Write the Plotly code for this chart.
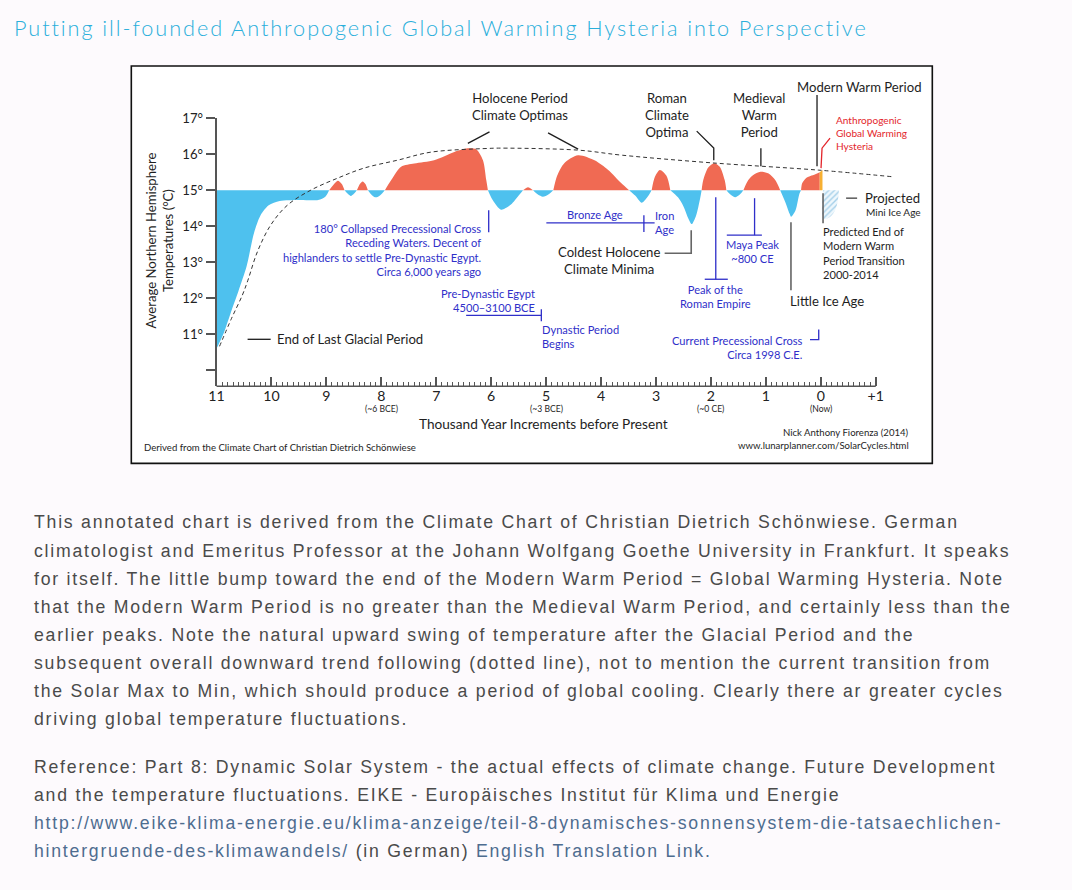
import plotly.graph_objects as go

# The page is photographed with an 8 px offset and a ~0.99 scale; compensate.
OFF = 8
S = 0.99
W, H = 1072 - OFF, 890 - OFF

# ---------------- data ----------------
# thousand years before present, temperature (deg C) of the smoothed Holocene curve
years_bp = [
    11.0, 10.87, 10.745, 10.6, 10.45, 10.32, 10.2, 10.05, 9.85, 9.5, 9.15, 9.02, 8.95,
    8.86, 8.79, 8.72, 8.67,
    8.61, 8.555, 8.50, 8.445,
    8.39, 8.34, 8.29, 8.245,
    8.17, 8.10, 8.02, 7.935,
    7.82, 7.64, 7.40, 7.04, 6.67, 6.43, 6.27, 6.15, 6.09, 6.06,
    5.97, 5.82, 5.64, 5.50, 5.42,
    5.33, 5.24,
    5.15, 5.06, 4.96, 4.87,
    4.80, 4.67, 4.42, 4.12, 3.87, 3.63, 3.49,
    3.38, 3.26, 3.16, 3.08,
    3.02, 2.93, 2.81, 2.74,
    2.60, 2.50, 2.41, 2.35, 2.27, 2.20, 2.17,
    2.14, 2.05, 1.94, 1.84, 1.75, 1.72,
    1.64, 1.56, 1.48, 1.41,
    1.32, 1.23, 1.10, 0.95, 0.83, 0.74,
    0.65, 0.57, 0.54, 0.46, 0.39, 0.36,
    0.34, 0.28, 0.19, 0.10, 0.02,
]
temperature = [
    10.6, 11.03, 11.58, 12.2, 12.9, 13.8, 14.3, 14.58, 14.70, 14.73, 14.73, 14.82, 15.0,
    15.17, 15.26, 15.17, 15.0,
    14.9, 14.84, 14.9, 15.0,
    15.17, 15.24, 15.17, 15.0,
    14.86, 14.8, 14.86, 15.0,
    15.28, 15.65, 15.74, 15.83, 16.06, 16.16, 16.13, 15.83, 15.28, 15.0,
    14.72, 14.46, 14.6, 14.85, 15.0,
    15.08, 15.0,
    14.88, 14.82, 14.88, 15.0,
    15.4, 15.75, 15.97, 15.83, 15.56, 15.19, 15.0,
    14.85, 14.65, 14.8, 15.0,
    15.37, 15.56, 15.40, 15.0,
    14.8, 14.55, 14.21, 14.06, 14.3, 14.75, 15.0,
    15.28, 15.63, 15.75, 15.65, 15.28, 15.0,
    14.87, 14.8, 14.87, 15.0,
    15.28, 15.42, 15.51, 15.46, 15.28, 15.0,
    14.68, 14.35, 14.26, 14.44, 14.9, 15.0,
    15.19, 15.32, 15.39, 15.44, 15.50,
]
baseline_temp = 15.0

# "Anthropogenic Global Warming Hysteria" bump
hysteria_bp = [0.02, 0.02, -0.03, -0.03]
hysteria_temp = [15.0, 15.50, 15.56, 15.0]

# Projected mini ice age
projected_bp = [-0.04, -0.04, -0.09, -0.17, -0.26, -0.31, -0.33]
projected_temp = [15.0, 14.22, 14.2, 14.26, 14.44, 14.72, 15.0]

# dashed long-term trend
trend_bp = [10.945, 10.726, 10.531, 10.429, 10.257, 10.015, 9.710, 9.285, 8.797, 8.318,
            7.703, 7.095, 6.060, 5.818, 4.418, 3.628, 1.985, 0.038, -1.330]
trend_temp = [10.667, 11.444, 12.083, 12.5, 13.286, 14.028, 14.583, 15.0, 15.333, 15.611,
              15.833, 16.056, 16.158, 16.167, 16.111, 15.972, 15.758, 15.556, 15.369]

x_tick_vals = [11, 10, 9, 8, 7, 6, 5, 4, 3, 2, 1, 0, -1]
x_tick_text = ["11", "10", "9", "8", "7", "6", "5", "4", "3", "2", "1", "0", "+1"]
x_sub_vals = [8, 5, 2, 0]
x_sub_text = ["(~6 BCE)", "(~3 BCE)", "(~0 CE)", "(Now)"]
y_tick_vals = [10, 11, 12, 13, 14, 15, 16, 17]
y_tick_text = ["", "11°", "12°", "13°", "14°", "15°", "16°", "17°"]

assert len(years_bp) == len(temperature)

# ---------------- layout geometry (pixels of the reference page) ----------------
X0_PX = 216.0          # x of 11 kyr
PX_PER_KYR = 54.8
X_RIGHT = -1.34
Y_AXIS_PX = 386.0      # x axis line
Y17_PX = 118.0
PX_PER_DEG = 36.0
Y_MIN = 17 - (Y_AXIS_PX - Y17_PX) / PX_PER_DEG


def kx(k):
    return X0_PX + (11 - k) * PX_PER_KYR


def X(px):
    return ((px - OFF) / S) / W


def Y(py):
    return 1 - ((py - OFF) / S) / H


def z(v):
    return v / S


RED = "#F06A53"
BLUE = "#4EC1EE"
ANN_BLUE = "#2F2FC9"
ANN_RED = "#E3262C"
DARK = "#1E1E1E"
GRAY = "#666666"
CF = "Lato"

fig = go.Figure()

# split the curve into lobes above / below 15 degrees
lobes = []
cur = [0]
n = len(years_bp)
for i in range(1, n):
    cur.append(i)
    if temperature[i] == baseline_temp and i != n - 1:
        lobes.append(cur)
        cur = [i]
if len(cur) > 1:
    lobes.append(cur)

for lobe in lobes:
    xs = [years_bp[i] for i in lobe]
    ys = [temperature[i] for i in lobe]
    above = sum(v - baseline_temp for v in ys) > 0
    fig.add_trace(go.Scatter(x=xs, y=[baseline_temp] * len(xs), mode="lines",
                             line=dict(width=0), hoverinfo="skip", showlegend=False))
    fig.add_trace(go.Scatter(x=xs, y=ys, mode="lines", fill="tonexty",
                             fillcolor=RED if above else BLUE,
                             line=dict(width=0, shape="spline", smoothing=0.8),
                             hoverinfo="skip", showlegend=False))

fig.add_trace(go.Scatter(x=hysteria_bp, y=hysteria_temp, mode="lines", fill="toself",
                         fillcolor="#F7B032", line=dict(width=0), showlegend=False,
                         hoverinfo="skip"))
fig.add_trace(go.Scatter(x=projected_bp, y=projected_temp, mode="lines", fill="toself",
                         fillcolor="#EAF5FB",
                         fillpattern=dict(shape="/", fgcolor="#5DA9D6", bgcolor="#EEF7FC",
                                          size=4, solidity=0.35),
                         line=dict(width=0, shape="spline"), showlegend=False,
                         hoverinfo="skip"))
fig.add_trace(go.Scatter(x=trend_bp, y=trend_temp, mode="lines",
                         line=dict(color="#333333", width=1, dash="4px,3px", shape="spline"),
                         showlegend=False, hoverinfo="skip"))

shapes = []
# chart frame
shapes.append(dict(type="rect", xref="paper", yref="paper", x0=X(131), x1=X(930),
                   y0=Y(66), y1=Y(463), fillcolor="white",
                   line=dict(color="#111111", width=z(1.6)), layer="below"))
# x axis line (from 11 to +1)
shapes.append(dict(type="line", xref="paper", yref="paper", x0=X(kx(11)), x1=X(kx(-1)),
                   y0=Y(Y_AXIS_PX), y1=Y(Y_AXIS_PX),
                   line=dict(color="#555555", width=z(1.5))))


def seg(pts, color, width=1.3):
    path = "M " + " L ".join(f"{X(a):.5f},{Y(b):.5f}" for a, b in pts)
    shapes.append(dict(type="path", xref="paper", yref="paper", path=path,
                       line=dict(color=color, width=z(width))))


# black connectors
seg([(466.7, 143.3), (488.3, 131.7)], DARK)
seg([(546.7, 132.7), (576.7, 149)], DARK)
seg([(695, 131), (712, 148), (712, 160)], DARK)
seg([(759, 148), (759, 166)], DARK)
seg([(815, 95), (815, 166)], DARK)
seg([(247, 339), (270, 339)], DARK)
# gray connectors
seg([(844, 198), (855, 198)], GRAY, 1.6)
seg([(821, 193), (821, 223)], GRAY, 1.6)
seg([(789, 222), (789, 290)], GRAY, 1.6)
seg([(663, 253), (689.5, 253), (689.5, 230)], GRAY, 1.6)
# red connector
seg([(828, 138), (820, 148), (819, 168)], ANN_RED, 1.3)
# blue connectors
seg([(487.5, 210), (487.5, 232)], ANN_BLUE)
seg([(545, 222.7), (653, 222.7)], ANN_BLUE)
seg([(642.3, 215), (642.3, 231.7)], ANN_BLUE)
seg([(465, 315), (540, 315)], ANN_BLUE)
seg([(540, 309), (540, 321)], ANN_BLUE)
seg([(714, 197), (714, 279)], ANN_BLUE)
seg([(703, 279), (726, 279)], ANN_BLUE)
seg([(752.7, 198), (752.7, 235)], ANN_BLUE)
seg([(725, 235), (760, 235)], ANN_BLUE)
seg([(808, 339.3), (816.7, 339.3), (816.7, 329.3)], ANN_BLUE)

anns = []


def txt(text, x, y, size=13, color=DARK, xanchor="center", align=None, font=CF,
        angle=0, weight=None):
    f = dict(family=font, size=z(size), color=color)
    if weight:
        f["weight"] = weight
    anns.append(dict(text=text, x=X(x), y=Y(y), xref="paper", yref="paper",
                     xanchor=xanchor, yanchor="middle", showarrow=False,
                     align=align or ("left" if xanchor == "left" else
                                     "right" if xanchor == "right" else "center"),
                     font=f, textangle=angle))


# black chart labels
txt("Holocene Period<br>Climate Optimas", 519, 106.5)
txt("Roman<br>Climate<br>Optima", 665, 115)
txt("Medieval<br>Warm<br>Period", 757, 115)
txt("Modern Warm Period", 857, 87)
txt("Projected", 861, 198, xanchor="left")
txt("Mini Ice Age", 862, 212, size=10, xanchor="left")
txt("Predicted End of<br>Modern Warm<br>Period Transition<br>2000-2014", 819, 253,
    size=11, xanchor="left")
txt("Little Ice Age", 786, 301, xanchor="left")
txt("Coldest Holocene<br>Climate Minima", 607, 260)
txt("End of Last Glacial Period", 274, 339, xanchor="left")
txt("Average Northern Hemisphere<br>Temperatures (°C)", 159, 240, angle=-90)
txt("Thousand Year Increments before Present", 542, 424, size=13.5)
for v, t in zip(x_sub_vals, x_sub_text):
    txt(t, kx(v), 409, size=8.5)
txt("Derived from the Climate Chart of Christian Dietrich Schönwiese", 142, 447,
    size=9.5, xanchor="left")
txt("Nick Anthony Fiorenza (2014)", 909, 432, size=9.5, xanchor="right")
txt("www.lunarplanner.com/SolarCycles.html", 909, 445, size=9.5, xanchor="right")
# red
txt("Anthropogenic<br>Global Warming<br>Hysteria", 832, 133, size=10, color=ANN_RED,
    xanchor="left")
# blue
txt("180° Collapsed Precessional Cross<br>Receding Waters. Decent of<br>"
    "highlanders to settle Pre-Dynastic Egypt.<br>Circa 6,000 years ago",
    482, 250, size=11, color=ANN_BLUE, xanchor="right")
txt("Bronze Age", 594, 214, size=11, color=ANN_BLUE)
txt("Iron<br>Age", 651, 222, size=11, color=ANN_BLUE, xanchor="left")
txt("Pre-Dynastic Egypt<br>4500–3100 BCE", 536, 300, size=11, color=ANN_BLUE,
    xanchor="right")
txt("Dynastic Period<br>Begins", 539, 336, size=11, color=ANN_BLUE, xanchor="left")
txt("Peak of the<br>Roman Empire", 714, 296, size=11, color=ANN_BLUE)
txt("Maya Peak<br>~800 CE", 751, 251, size=11, color=ANN_BLUE)
txt("Current Precessional Cross<br>Circa 1998 C.E.", 803, 347, size=11, color=ANN_BLUE,
    xanchor="right")

# page title
TITLE = "Putting ill-founded Anthropogenic Global Warming Hysteria into Perspective"
txt(f'<span style="letter-spacing:{z(1.9):.2f}px">{TITLE}</span>', 12, 28, size=21.5,
    color="#2AAFDB", xanchor="left", font="Lato", weight=300)

# body text
BODY = "Liberation Sans"
LINK = "#4E6C8F"
TEXT = "#4A4A4A"
para1 = [
    "This annotated chart is derived from the Climate Chart of Christian Dietrich Schönwiese. German",
    "climatologist and Emeritus Professor at the Johann Wolfgang Goethe University in Frankfurt. It speaks",
    "for itself. The little bump toward the end of the Modern Warm Period = Global Warming Hysteria. Note",
    "that the Modern Warm Period is no greater than the Medieval Warm Period, and certainly less than the",
    "earlier peaks. Note the natural upward swing of temperature after the Glacial Period and the",
    "subsequent overall downward trend following (dotted line), not to mention the current transition from",
    "the Solar Max to Min, which should produce a period of global cooling. Clearly there ar greater cycles",
    "driving global temperature fluctuations.",
]
para2 = [
    "Reference: Part 8: Dynamic Solar System - the actual effects of climate change. Future Development",
    "and the temperature fluctuations. EIKE - Europäisches Institut für Klima und Energie",
    f'<span style="color:{LINK}">http://www.eike-klima-energie.eu/klima-anzeige/teil-8-dynamisches-sonnensystem-die-tatsaechlichen-</span>',
    f'<span style="color:{LINK}">hintergruende-des-klimawandels/</span> (in German) '
    f'<span style="color:{LINK}">English Translation Link.</span>',
]
LS = f"letter-spacing:{z(1.75):.2f}px"
for i, line in enumerate(para1):
    txt(f'<span style="{LS}">{line}</span>', 32, 522 + 28 * i, size=17.5, color=TEXT,
        xanchor="left", font=BODY)
for i, line in enumerate(para2):
    txt(f'<span style="{LS}">{line}</span>', 32, 766 + 28 * i, size=17.5, color=TEXT,
        xanchor="left", font=BODY)

x_dom = [X(kx(11)), X(kx(X_RIGHT))]
y_dom = [Y(Y_AXIS_PX), Y(Y17_PX)]

fig.update_layout(
    width=W, height=H,
    margin=dict(l=0, r=0, t=0, b=0),
    paper_bgcolor="#FDFAFD",
    plot_bgcolor="rgba(0,0,0,0)",
    showlegend=False,
    shapes=shapes,
    annotations=anns,
    xaxis=dict(domain=x_dom, range=[11, X_RIGHT], showgrid=False, zeroline=False,
               showline=False, ticks="inside", ticklen=z(9), tickwidth=z(1.5),
               tickcolor="#555555", tickmode="array", tickvals=x_tick_vals,
               ticktext=x_tick_text,
               tickfont=dict(family=CF, size=z(14), color="#222222"),
               minor=dict(tickmode="array",
                          tickvals=[round(11 - 0.1 * i, 1) for i in range(121) if i % 10],
                          ticks="inside", ticklen=z(4), tickwidth=1, tickcolor="#555555"),
               fixedrange=True),
    yaxis=dict(domain=y_dom, range=[Y_MIN, 17], showgrid=False, zeroline=False,
               showline=True, linecolor="#555555", linewidth=z(1.5), ticks="outside",
               ticklen=z(9), tickwidth=z(1.5), tickcolor="#555555", tickmode="array",
               tickvals=y_tick_vals, ticktext=y_tick_text,
               tickfont=dict(family=CF, size=z(13), color="#222222"), fixedrange=True),
)

fig.write_html("out.html", config={"displayModeBar": False},
               post_script="document.body.style.margin='0';"
                           "document.body.style.overflow='hidden';"
                           "document.body.style.background='#FDFAFD';")
